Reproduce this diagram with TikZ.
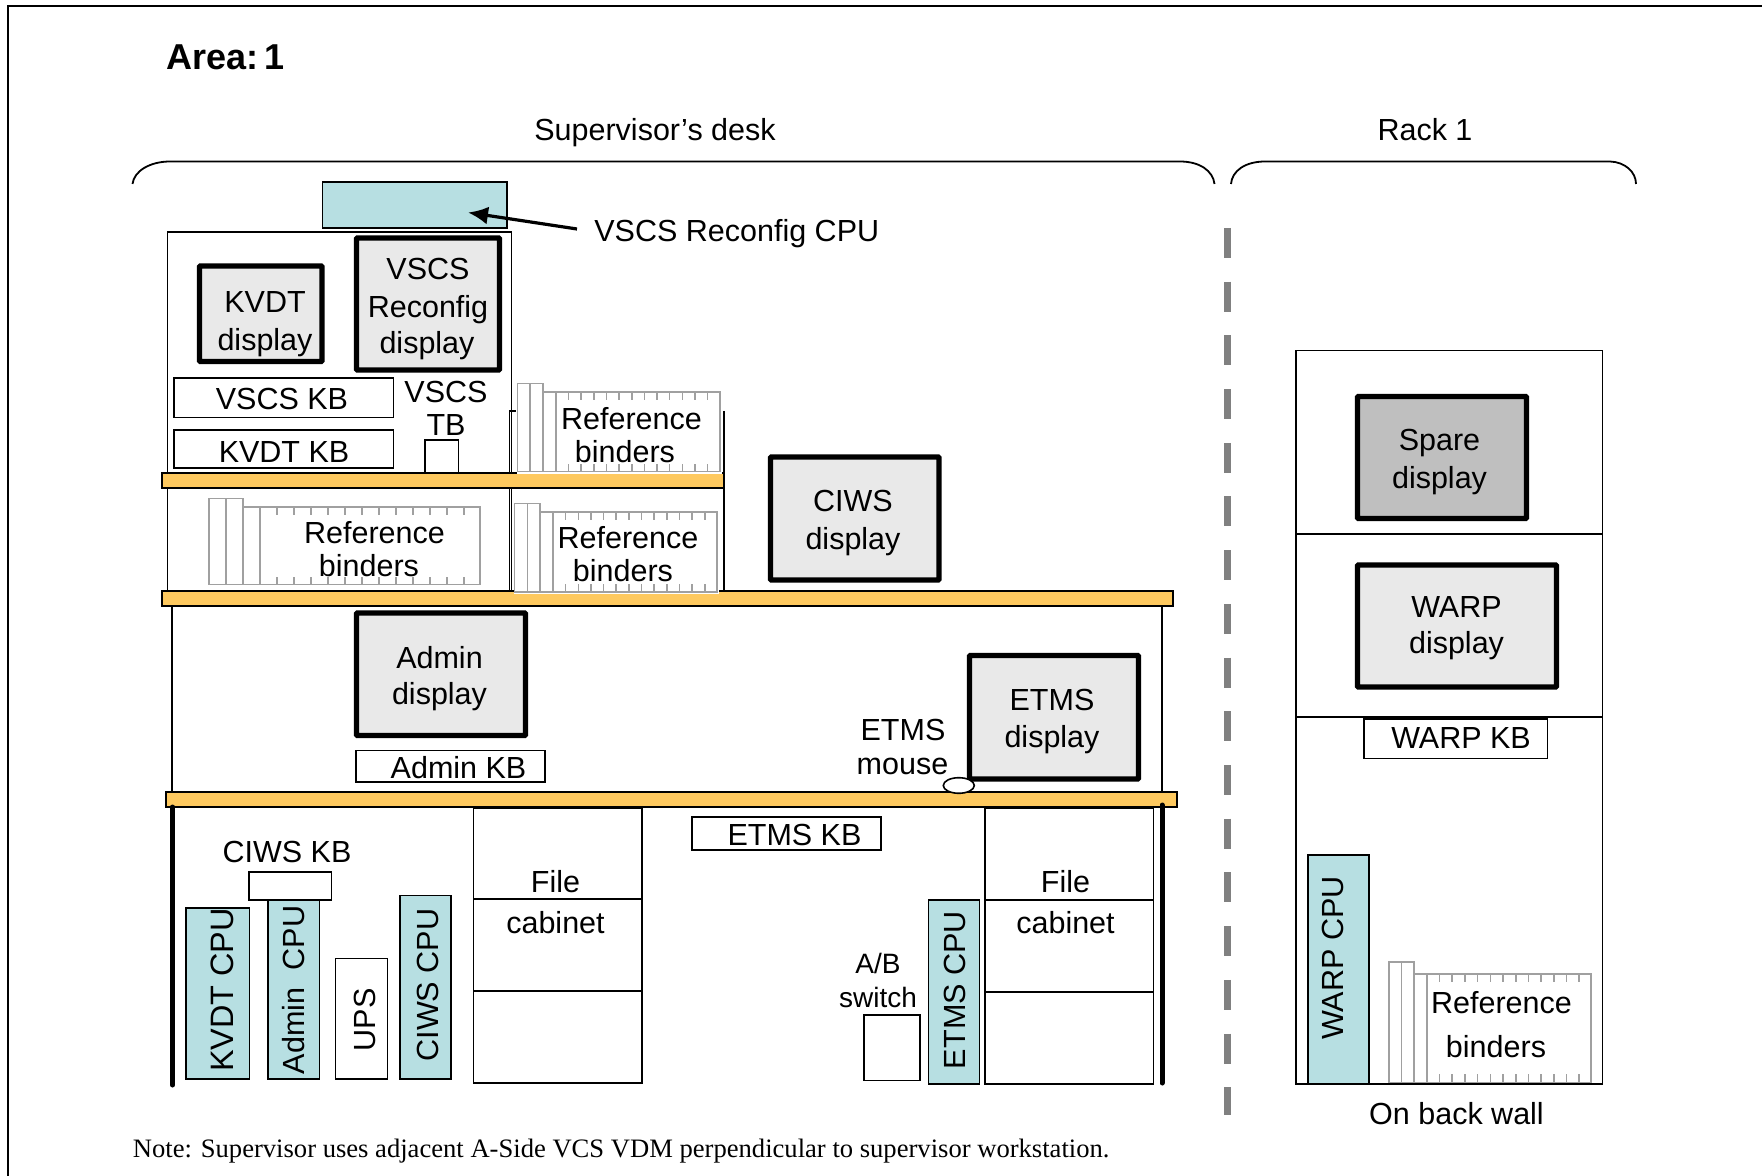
\documentclass[tikz,border=0pt]{standalone}
\usepackage{fontspec}
\usetikzlibrary{arrows.meta,shapes.geometric}
\setmainfont{Liberation Sans}
\newfontfamily\notefont{Liberation Serif}
\definecolor{cpucol}{HTML}{B7DFE2}
\definecolor{dispcol}{HTML}{E9E9E9}
\definecolor{sparecol}{HTML}{BFBFBF}
\definecolor{shelfcol}{HTML}{FEC95F}
\definecolor{bindcol}{HTML}{A0A0A0}
\definecolor{dashcol}{HTML}{808080}
\tikzset{
  shapebox/.style={draw=black,line width=1pt,inner sep=0pt,outer sep=0pt,fill=white},
  thinbox/.style={shapebox,line width=.8pt},
  cpubox/.style={shapebox,fill=cpucol,line width=.8pt},
  dispbox/.style={shapebox,fill=dispcol,line width=2.7pt,rounded corners=.5pt},
  shelfbox/.style={shapebox,fill=shelfcol,line width=1pt},
  lbl/.style={font=\fontsize{15.25}{18}\selectfont,inner sep=0pt,outer sep=0pt,anchor=center,text depth=0pt},
  vlbl/.style={lbl,rotate=90,font=\fontsize{15.3}{18}\selectfont},
  wall/.style={line width=.8pt},
  heavy/.style={line width=2.5pt,line cap=round},
  bracket/.style={line width=.9pt},
  binderline/.style={draw=bindcol,line width=.8pt}
}
% name, x0, y0, x1, y1, style  (coordinates in reference pixels)
\newcommand{\bx}[6]{\node[#6,minimum width={(#4-#2)*0.5pt},minimum height={(#5-#3)*0.5pt}] (#1) at ({(#2+#4)/2},{(#3+#5)/2}) {};}
% name, x text, y text
\newcommand{\lb}[4]{\node[lbl] (#1) at (#2,#3) {#4};}
\newcommand{\vlb}[4]{\node[vlbl] (#1) at (#2,#3) {#4};}
% binder: x0, ytall, ytop, ybot, xright, pitch of the three dividers, tick pitch, tick end
\newcommand{\binder}[8]{%
  \fill[white] (#1-.5,#2) rectangle (#5+2,#4+2.5);
  \draw[binderline] (#1,#4) -- (#1,#2) -- ({#1+2*#6},#2) -- ({#1+2*#6},#3) -- (#5,#3) -- (#5,#4) -- cycle;
  \draw[binderline] ({#1+#6},#2) -- ({#1+#6},#4);
  \draw[binderline] ({#1+2*#6},#3) -- ({#1+2*#6},#4);
  \draw[binderline] ({#1+3*#6},#3) -- ({#1+3*#6},#4);
  \pgfmathsetmacro{\tA}{#1+3*#6+#7}
  \pgfmathsetmacro{\tB}{#1+3*#6+2*#7}
  \foreach \tx in {\tA,\tB,...,#8}{
    \draw[binderline] (\tx,#3) -- (\tx,#3+8);
    \draw[binderline] (\tx,#4) -- (\tx,#4-8);
  }%
}
\begin{document}
\begin{tikzpicture}[x=0.5pt,y=-0.5pt]
\useasboundingbox (0,0) rectangle (1762,1176);
\fill[white] (0,0) rectangle (1762,1176);
% page frame
\coordinate (fa) at (7.5,1176);
\coordinate (fb) at (7.5,6);
\coordinate (fc) at (1762,6);
\draw[line width=1pt] (fa) -- (fb) -- (fc);
% headings
\node[font=\fontsize{18}{20}\bfseries\selectfont,inner sep=0pt,anchor=west,text depth=0pt] (title) at (166,57) {Area:\hspace{3pt}1};
\lb{supdesk}{655}{129}{Supervisor’s desk}
\lb{rackone}{1425}{129}{Rack 1}
% brackets
\draw[bracket] (132.5,184) .. controls (134,171) and (150,161.5) .. (170,161.5) -- (1180,161.5) .. controls (1200,161.5) and (1213,171) .. (1214.5,184);
\draw[bracket] (1231,184) .. controls (1232,171) and (1245,161.5) .. (1265,161.5) -- (1610,161.5) .. controls (1625,162) and (1636,172) .. (1636,184);
% divider
\coordinate (dv1) at (1227,228);
\coordinate (dv2) at (1227,1115);
\draw[dashcol,line width=3.5pt,dash pattern=on 15pt off 11.85pt] (dv1) -- (dv2);
% upper hutch
\bx{hutch}{167.4}{232}{511.5}{591}{thinbox}
\coordinate (hr1) at (509.5,591);
\coordinate (hr2) at (509.5,411);
\coordinate (hr3) at (516,411);
\draw[wall] (hr1) -- (hr2) -- (hr3);
\coordinate (hs1) at (723.8,411);
\coordinate (hs2) at (723.8,591);
\draw[wall] (hs1) -- (hs2);
% lower desk walls
\coordinate (wl1) at (172,606);
\coordinate (wl2) at (172,792);
\coordinate (wr1) at (1162,606);
\coordinate (wr2) at (1162,792);
\draw[wall] (wl1) -- (wl2);
\draw[wall] (wr1) -- (wr2);
% shelves
\bx{shelfa}{161.8}{473}{723.8}{488}{shelfbox}
\bx{shelfb}{161.8}{591}{1173}{606}{shelfbox}
\bx{shelfc}{165.8}{792}{1177}{807}{shelfbox}
% binders
\binder{517.4}{383.5}{392}{471.7}{719.8}{12.8}{12.65}{716}
\binder{209}{498.5}{507}{584.5}{479.8}{17}{17}{476}
\binder{514.6}{503.5}{512}{591.7}{717}{12.8}{12.65}{714}
\binder{1388.7}{962}{973.7}{1082.3}{1591}{12.7}{12.7}{1588}
% VSCS reconfig
\bx{vcpu}{322.5}{182}{506.7}{228}{cpubox}
\node[lbl,anchor=west] (vcpul) at (594.4,230.5) {VSCS Reconfig CPU};
\coordinate (arrtail) at (577,229);
\coordinate (arrtip) at (468,212.5);
\draw[line width=1.6pt,-{Latex[length=10pt,width=9pt]}] (arrtail) -- (arrtip);
% displays hutch
\bx{kvdtd}{199.5}{266}{322}{361.5}{dispbox}
\lb{kvdtda}{265}{302.5}{KVDT}
\lb{kvdtdb}{265}{339}{display}
\bx{vscsd}{356.5}{238}{499.5}{370}{dispbox}
\lb{vscsda}{428}{269}{VSCS}
\lb{vscsdb}{428}{306.5}{Reconfig}
\lb{vscsdc}{427}{342}{display}
\bx{vscskb}{174}{378}{393.5}{417.5}{thinbox}
\lb{vscskbl}{282}{399}{VSCS KB}
\bx{kvdtkb}{174}{430}{393.5}{468}{thinbox}
\lb{kvdtkbl}{284}{452.5}{KVDT KB}
\lb{vscstba}{446}{392}{VSCS}
\lb{vscstbb}{446}{425}{TB}
\bx{vscstb}{425}{440}{458.5}{473}{thinbox}
% binder labels
\lb{rba}{631.5}{418.5}{Reference}
\lb{rbb}{625}{451.5}{binders}
\lb{rca}{374.5}{532.5}{Reference}
\lb{rcb}{369}{565}{binders}
\lb{rda}{628}{537.5}{Reference}
\lb{rdb}{623}{570.5}{binders}
\lb{rea}{1501.5}{1002.5}{Reference}
\lb{reb}{1496}{1046.5}{binders}
% desk displays
\bx{ciwsd}{770.5}{457}{939}{580}{dispbox}
\lb{ciwsda}{853}{501}{CIWS}
\lb{ciwsdb}{853}{538}{display}
\bx{admind}{356.5}{613}{525.5}{735.5}{dispbox}
\lb{adminda}{439.5}{657}{Admin}
\lb{admindb}{439.5}{693}{display}
\bx{adminkb}{356}{750.5}{545}{782}{thinbox}
\lb{adminkbl}{458.5}{767}{Admin KB}
\bx{etmsd}{969.5}{655.5}{1138.5}{779}{dispbox}
\lb{etmsda}{1052}{700}{ETMS}
\lb{etmsdb}{1052}{736}{display}
\lb{mousea}{903}{730}{ETMS}
\lb{mouseb}{902.5}{766.5}{mouse}
\node[draw=black,fill=white,line width=.8pt,ellipse,inner sep=0pt,minimum width=15.5pt,minimum height=7.8pt] (mouse) at (958.8,785.5) {};
% under-desk left
\coordinate (tl1) at (172.5,807);
\coordinate (tl2) at (172.5,1085);
\draw[heavy] (tl1) -- (tl2);
\bx{kvdtc}{185.7}{908}{249.5}{1079}{cpubox}
\node[vlbl,font=\fontsize{16.2}{18}\selectfont] (kvdtcl) at (222,990) {KVDT CPU};
\bx{adminc}{268}{890}{319.5}{1079}{cpubox}
\vlb{admincl}{293}{990}{Admin\ \ CPU}
\bx{ciwskb}{249}{872}{331.5}{900}{thinbox}
\lb{ciwskbl}{287}{852}{CIWS KB}
\bx{ups}{335.5}{958.5}{387.5}{1079}{thinbox}
\vlb{upsl}{364.5}{1020}{UPS}
\bx{ciwsc}{399.7}{895.5}{451}{1079}{cpubox}
\vlb{ciwscl}{428}{985}{CIWS CPU}
\bx{fca}{473.5}{808}{641.7}{899}{thinbox}
\bx{fcb}{473.5}{899}{641.7}{991}{thinbox}
\bx{fcc}{473.5}{991}{641.7}{1083}{thinbox}
\lb{fcal}{555.5}{881.5}{File}
\lb{fcbl}{555.5}{922.5}{cabinet}
% under-desk right
\bx{etmskb}{692}{817}{881}{850}{thinbox}
\lb{etmskbl}{794.5}{835}{ETMS KB}
\node[lbl,font=\fontsize{14}{18}\selectfont] (aba) at (878,963.5) {A/B};
\node[lbl,font=\fontsize{14}{18}\selectfont] (abb) at (878,997) {switch};
\bx{absw}{864}{1015}{920}{1080.5}{thinbox}
\bx{etmsc}{928.5}{900}{979.5}{1084}{cpubox}
\vlb{etmscl}{955}{990}{ETMS CPU}
\bx{fda}{985}{808.5}{1153.5}{900}{thinbox}
\bx{fdb}{985}{900}{1153.5}{992}{thinbox}
\bx{fdc}{985}{992}{1153.5}{1084}{thinbox}
\lb{fdal}{1065.5}{881.5}{File}
\lb{fdbl}{1065.5}{922.5}{cabinet}
\coordinate (tr1) at (1162,805);
\coordinate (tr2) at (1162,1083);
\draw[heavy] (tr1) -- (tr2);
% rack
\bx{racka}{1295.7}{350.5}{1602.5}{534}{thinbox}
\bx{rackb}{1295.7}{534}{1602.5}{717}{thinbox}
\coordinate (rk1) at (1295.7,717);
\coordinate (rk2) at (1295.7,1084);
\coordinate (rk3) at (1602.5,1084);
\coordinate (rk4) at (1602.5,717);
\draw[wall] (rk1) -- (rk2) -- (rk3) -- (rk4);
\bx{spared}{1357.5}{396.5}{1526.5}{518.5}{dispbox,fill=sparecol}
\lb{spareda}{1439.5}{440}{Spare}
\lb{sparedb}{1439.5}{477.5}{display}
\bx{warpd}{1357.5}{565}{1556.5}{687}{dispbox}
\lb{warpda}{1456.5}{607}{WARP}
\lb{warpdb}{1456.5}{642}{display}
\bx{warpkb}{1364}{719}{1547.5}{758.5}{thinbox}
\lb{warpkbl}{1461}{738.5}{WARP KB}
\bx{warpc}{1307.7}{855}{1368.7}{1084}{cpubox}
\vlb{warpcl}{1333}{958}{WARP CPU}
\lb{backwall}{1456.5}{1113.5}{On back wall}
% note
\node[font=\notefont\fontsize{13.3}{14}\selectfont,inner sep=0pt,anchor=west,text depth=0pt] (note) at (132.5,1148) {Note: Supervisor uses adjacent A-Side VCS VDM perpendicular to supervisor workstation.};
\end{tikzpicture}
\end{document}
